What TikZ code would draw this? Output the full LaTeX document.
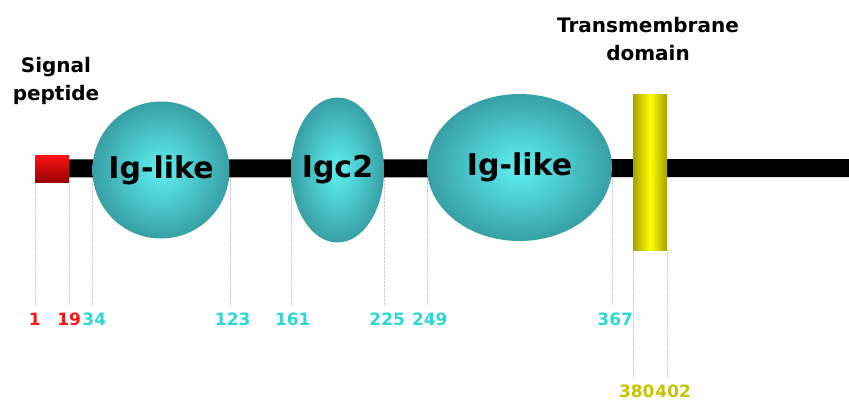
\documentclass[tikz,border=0pt]{standalone}
\usepackage{fontspec}
\setmainfont{DejaVu Sans}
\usetikzlibrary{shapes.geometric, positioning, backgrounds}
\definecolor{sigred}{RGB}{255,20,20}
\definecolor{sigdark}{RGB}{150,0,0}
\definecolor{domlight}{RGB}{95,240,240}
\definecolor{domdark}{RGB}{55,160,165}
\definecolor{tmyellow}{RGB}{255,255,0}
\definecolor{tmdark}{RGB}{165,160,0}
\definecolor{numred}{RGB}{250,20,20}
\definecolor{numcyan}{RGB}{45,215,215}
\definecolor{numyellow}{RGB}{200,195,0}
\tikzset{
    sigbox/.style={rectangle, minimum width=34pt, minimum height=27pt, inner sep=0pt, top color=sigred, bottom color=sigdark},
    igdomain/.style={ellipse, inner sep=0pt, inner color=domlight, outer color=domdark},
    domtext/.style={font=\fontsize{30}{30}\selectfont\bfseries, text=black},
    tmbox/.style={rectangle, minimum width=34pt, minimum height=156pt, inner sep=0pt, left color=tmdark, right color=tmdark, middle color=tmyellow},
    backbone/.style={line width=18pt, black},
    tickline/.style={densely dotted, black!20, thin},
    poslabel/.style={anchor=north, inner sep=0pt, outer sep=8pt, font=\fontsize{17}{17}\selectfont\bfseries},
    domtitle/.style={align=center, font=\fontsize{20}{28}\selectfont\bfseries}
}
\begin{document}
\begin{tikzpicture}[x=1pt, y=-1pt]
        \useasboundingbox (0,0) rectangle (849,402);

        % --- Domains ---
        \node (sp) [sigbox] at (52,168.5) {};
        \node (ig1) [igdomain, minimum width=137pt, minimum height=137pt, label={[domtext]center:Ig-like}] at (161,170) {};
        \node (igc) [igdomain, minimum width=93pt, minimum height=145pt, label={[domtext]center:Igc2}] at (337.5,170) {};
        \node (ig2) [igdomain, minimum width=185pt, minimum height=147pt, label={[domtext]center:Ig-like}] at (519.5,167.5) {};
        \node (tm) [tmbox] at (650,172) {};
        \coordinate (cterm) at (849,168);

        % --- Titles ---
        \node (sptitle) [domtitle] at (56,81) {Signal\\peptide};
        \node (tmtitle) [domtitle] at (648,39) {Transmembrane\\domain};

        % --- Positions ---
        \node (p1) [poslabel, text=numred] at (sp.west |- 0,305) {1};
        \node (p19) [poslabel, text=numred] at (sp.east |- 0,305) {19};
        \node (p34) [poslabel, text=numcyan, xshift=2pt] at (ig1.west |- 0,305) {34};
        \node (p123) [poslabel, text=numcyan, xshift=3pt] at (ig1.east |- 0,305) {123};
        \node (p161) [poslabel, text=numcyan, xshift=2pt] at (igc.west |- 0,305) {161};
        \node (p225) [poslabel, text=numcyan, xshift=3pt] at (igc.east |- 0,305) {225};
        \node (p249) [poslabel, text=numcyan, xshift=3pt] at (ig2.west |- 0,305) {249};
        \node (p367) [poslabel, text=numcyan, xshift=3pt] at (ig2.east |- 0,305) {367};
        \node (p380) [poslabel, text=numyellow, xshift=4pt] at (tm.west |- 0,377) {380};
        \node (p402) [poslabel, text=numyellow, xshift=6pt] at (tm.east |- 0,377) {402};

        % --- Ticks and backbone behind the domains ---
        \begin{pgfonlayer}{background}
            \draw [tickline] (sp.south west) -- (p1.north -| sp.west);
            \draw [tickline] (sp.south east) -- (p19.north -| sp.east);
            \draw [tickline] (ig1.west) -- (p34.north -| ig1.west);
            \draw [tickline] (ig1.east) -- (p123.north -| ig1.east);
            \draw [tickline] (igc.west) -- (p161.north -| igc.west);
            \draw [tickline] (igc.east) -- (p225.north -| igc.east);
            \draw [tickline] (ig2.west) -- (p249.north -| ig2.west);
            \draw [tickline] (ig2.east) -- (p367.north -| ig2.east);
            \draw [tickline] (tm.south west) -- (p380.north -| tm.west);
            \draw [tickline] (tm.south east) -- (p402.north -| tm.east);
            \draw [backbone] (sp.center) -- (cterm);
        \end{pgfonlayer}
\end{tikzpicture}
\end{document}
